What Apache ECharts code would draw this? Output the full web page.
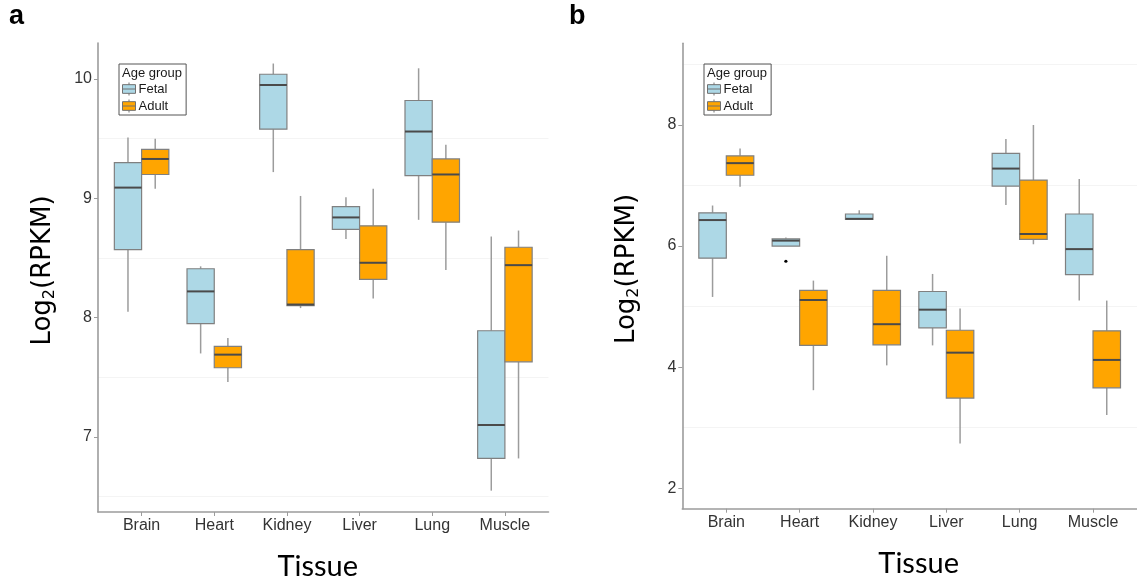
<!DOCTYPE html>
<html>
<head>
<meta charset="utf-8">
<script src="https://cdn.jsdelivr.net/npm/echarts@6/dist/echarts.min.js"></script>
<style>
  html, body { margin: 0; padding: 0; background: #ffffff; }
  #chart { width: 1137px; height: 588px; }
</style>
</head>
<body>
<div id="chart"></div>
<script>
// Tissues on the x axis
const tissues = ['Brain', 'Heart', 'Kidney', 'Liver', 'Lung', 'Muscle'];

// Box summaries per tissue: [min, Q1, median, Q3, max] of Log2(RPKM)
// Panel a
const fetalA = [
  [8.05, 8.57, 9.09, 9.30, 9.51],
  [7.70, 7.95, 8.22, 8.41, 8.43],
  [9.22, 9.58, 9.95, 10.04, 10.13],
  [8.66, 8.74, 8.84, 8.93, 9.01],
  [8.82, 9.19, 9.56, 9.82, 10.09],
  [6.55, 6.82, 7.10, 7.89, 8.68]
];
const adultA = [
  [9.08, 9.20, 9.33, 9.41, 9.50],
  [7.46, 7.58, 7.69, 7.76, 7.83],
  [8.08, 8.10, 8.11, 8.57, 9.02],
  [8.16, 8.32, 8.46, 8.77, 9.08],
  [8.40, 8.80, 9.20, 9.33, 9.45],
  [6.82, 7.63, 8.44, 8.59, 8.73]
];
// Panel b
const fetalB = [
  [5.16, 5.80, 6.43, 6.55, 6.67],
  [6.00, 6.00, 6.09, 6.12, 6.14],
  [6.44, 6.44, 6.45, 6.53, 6.59],
  [4.36, 4.65, 4.95, 5.25, 5.54],
  [6.68, 6.99, 7.28, 7.53, 7.77],
  [5.10, 5.53, 5.95, 6.53, 7.11]
];
const adultB = [
  [6.98, 7.17, 7.37, 7.49, 7.61],
  [3.62, 4.36, 5.11, 5.27, 5.43],
  [4.03, 4.37, 4.71, 5.27, 5.84],
  [2.74, 3.49, 4.24, 4.61, 4.97],
  [6.03, 6.11, 6.20, 7.09, 8.00],
  [3.21, 3.66, 4.12, 4.60, 5.10]
];
// Outlying points: [tissue, value]
const fetalOutliersB = [['Heart', 5.75]];

// Axis ticks and faint reference lines
const yTicksA = [7, 8, 9, 10];
const yTicksB = [2, 4, 6, 8];
const gridLinesA = [6.5, 7.5, 8.5, 9.5];
const gridLinesB = [3, 5, 7, 9];
const xTicks = tissues.map((t, i) => i + 1);

const FETAL_COLOR = '#ADD8E6';
const ADULT_COLOR = '#FFA500';
const BOX_EDGE = '#808080';
const WHISKER = '#9c9c9c';
const MEDIAN = '#4a4a4a';
const AXIS_COLOR = '#9c9c9c';
const HALF = 0.1875;          // half box width in category units
const DODGE = 0.1875;         // offset of each age group from the tissue centre

function toItems(summary) {
  return summary.map((s, i) => [i + 1].concat(s));
}

function boxRenderer(dodge, fill) {
  return function (params, api) {
    const x = api.value(0) + dodge;
    const lo = api.value(1), q1 = api.value(2), med = api.value(3), q3 = api.value(4), hi = api.value(5);
    const tl = api.coord([x - HALF, q3]);
    const br = api.coord([x + HALF, q1]);
    const top = api.coord([x, hi]);
    const bot = api.coord([x, lo]);
    const mL = api.coord([x - HALF, med]);
    const mR = api.coord([x + HALF, med]);
    return {
      type: 'group',
      children: [
        { type: 'line', shape: { x1: top[0], y1: top[1], x2: top[0], y2: tl[1] },
          style: { stroke: WHISKER, lineWidth: 1.5 } },
        { type: 'line', shape: { x1: bot[0], y1: br[1], x2: bot[0], y2: bot[1] },
          style: { stroke: WHISKER, lineWidth: 1.5 } },
        { type: 'rect', shape: { x: tl[0], y: tl[1], width: br[0] - tl[0], height: br[1] - tl[1] },
          style: { fill: fill, stroke: BOX_EDGE, lineWidth: 1.2 } },
        { type: 'line', shape: { x1: mL[0], y1: mL[1], x2: mR[0], y2: mR[1] },
          style: { stroke: MEDIAN, lineWidth: 2 } }
      ]
    };
  };
}

function pointRenderer(dodge) {
  return function (params, api) {
    const p = api.coord([api.value(0) + dodge, api.value(1)]);
    return { type: 'circle', shape: { cx: p[0], cy: p[1], r: 1.6 }, style: { fill: '#000' } };
  };
}

function boxSeries(name, summary, fill, dodge, axisIdx) {
  return {
    name: name,
    type: 'custom',
    xAxisIndex: axisIdx,
    yAxisIndex: axisIdx,
    itemStyle: { color: fill },
    renderItem: boxRenderer(dodge, fill),
    encode: { x: 0, y: [1, 2, 3, 4, 5] },
    data: toItems(summary),
    silent: true,
    z: 3
  };
}

function refLines(values, axisIdx) {
  return {
    type: 'line',
    xAxisIndex: axisIdx,
    yAxisIndex: axisIdx,
    data: [],
    silent: true,
    z: 0,
    markLine: {
      z: 0,
      silent: true,
      animation: false,
      symbol: ['none', 'none'],
      label: { show: false },
      lineStyle: { color: '#f4f4f4', width: 1, type: 'solid' },
      data: values.map(v => ({ yAxis: v }))
    }
  };
}

const subscriptName = '{a|Log}{s|2}{a|(RPKM)}';

function xAxisFor(gridIdx, namePadding) {
  return {
    gridIndex: gridIdx,
    type: 'value',
    min: 0.4,
    max: 6.6,
    axisLine: { show: true, onZero: false, lineStyle: { color: AXIS_COLOR, width: 1.6 } },
    axisTick: { show: true, customValues: xTicks, length: 4, lineStyle: { color: AXIS_COLOR, width: 1 } },
    axisLabel: {
      customValues: xTicks,
      formatter: v => tissues[Math.round(v) - 1],
      color: '#333333',
      fontFamily: 'Liberation Sans',
      fontSize: 16,
      margin: 6
    },
    splitLine: { show: false },
    name: 'Tissue',
    nameLocation: 'middle',
    nameGap: 40,
    nameTextStyle: { fontFamily: 'Lato', fontSize: 29, color: '#000000', padding: namePadding }
  };
}

function yAxisFor(gridIdx, min, max, ticks) {
  return {
    gridIndex: gridIdx,
    type: 'value',
    min: min,
    max: max,
    axisLine: { show: true, lineStyle: { color: AXIS_COLOR, width: 1.6 } },
    axisTick: { show: true, customValues: ticks, length: 4, lineStyle: { color: AXIS_COLOR, width: 1 } },
    axisLabel: {
      customValues: ticks,
      color: '#333333',
      fontFamily: 'Liberation Sans',
      fontSize: 16,
      margin: 6
    },
    splitLine: { show: false },
    name: subscriptName,
    nameLocation: 'middle',
    nameRotate: 90,
    nameGap: 40,
    nameTextStyle: {
      color: '#000000',
      padding: [0, 0, 0, 14],
      rich: {
        a: { fontFamily: 'DejaVu Sans', fontSize: 26, lineHeight: 30, color: '#000000' },
        s: { fontFamily: 'DejaVu Sans', fontSize: 16, lineHeight: 16, verticalAlign: 'bottom', color: '#000000' }
      }
    }
  };
}

function legendFor(left) {
  return {
    left: left,
    top: 64,
    orient: 'vertical',
    data: ['Fetal', 'Adult'],
    icon: 'path://M6,0 L6,2 M0,2 L12,2 L12,10 L0,10 Z M0,6 L12,6 M6,10 L6,12',
    itemWidth: 13,
    itemHeight: 13,
    itemGap: 3,
    padding: [18, 18, 2, 3],
    borderColor: '#555555',
    borderWidth: 1,
    selectedMode: false,
    itemStyle: { borderColor: '#707070', borderWidth: 1 },
    textStyle: { fontFamily: 'Liberation Sans', fontSize: 13, color: '#1a1a1a', lineHeight: 14, padding: [0, 0, 0, -2] }
  };
}

const chart = echarts.init(document.getElementById('chart'), null, { renderer: 'canvas' });

chart.setOption({
  backgroundColor: '#ffffff',
  animation: false,
  grid: [
    { left: 98, top: 43, width: 450.5, height: 469 },
    { left: 682.3, top: 43.3, width: 457, height: 465.4 }
  ],
  xAxis: [xAxisFor(0, [0, 11, 0, 0]), xAxisFor(1, [0, 0, 0, 18])],
  yAxis: [yAxisFor(0, 6.371, 10.302, yTicksA), yAxisFor(1, 1.663, 9.349, yTicksB)],
  legend: [legendFor(119), legendFor(704)],
  graphic: [
    { type: 'text', left: 9, top: 3, style: { text: 'a', font: 'bold 27px "Liberation Sans"', fill: '#000' } },
    { type: 'text', left: 569, top: 3, style: { text: 'b', font: 'bold 27px "Liberation Sans"', fill: '#000' } },
    { type: 'text', left: 122, top: 67, style: { text: 'Age group', font: '13px "Liberation Sans"', fill: '#1a1a1a' } },
    { type: 'text', left: 707, top: 67, style: { text: 'Age group', font: '13px "Liberation Sans"', fill: '#1a1a1a' } }
  ],
  series: [
    refLines(gridLinesA, 0),
    refLines(gridLinesB, 1),
    boxSeries('Fetal', fetalA, FETAL_COLOR, -DODGE, 0),
    boxSeries('Adult', adultA, ADULT_COLOR, DODGE, 0),
    boxSeries('Fetal', fetalB, FETAL_COLOR, -DODGE, 1),
    boxSeries('Adult', adultB, ADULT_COLOR, DODGE, 1),
    {
      name: 'Fetal',
      type: 'custom',
      xAxisIndex: 1,
      yAxisIndex: 1,
      itemStyle: { color: FETAL_COLOR },
      renderItem: pointRenderer(-DODGE),
      encode: { x: 0, y: 1 },
      data: fetalOutliersB.map(o => [tissues.indexOf(o[0]) + 1, o[1]]),
      silent: true,
      z: 4
    }
  ]
});
</script>
</body>
</html>
